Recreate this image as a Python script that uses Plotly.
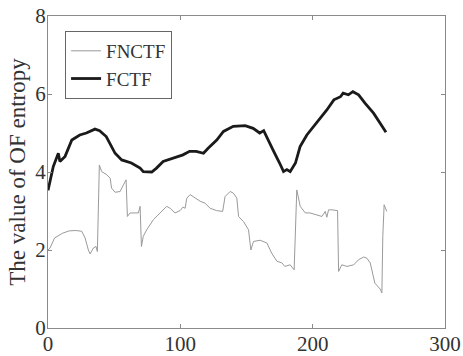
import plotly.graph_objects as go

# FNCTF (thin grey line)
fnctf_x = [0, 1.5, 5, 11, 16, 21, 25.5, 28, 30.5, 31.8, 34.3, 36.3, 37.3, 38.8, 40.6, 44.4, 47, 48, 50.7, 54.5, 57, 59,
           60, 62, 65.8, 68.3, 69.6, 70.6, 72, 74.6, 79.7, 84.7, 89.7, 92.3, 96, 99.8, 102, 103.6, 104.9, 107.4,
           111, 115, 118.7, 122.5, 127.5, 132, 133.8, 137.6, 140, 142.7, 144, 147.7, 151.5, 153.3, 155.3, 160.3,
           165.4, 169, 173, 176.7, 179, 183, 186, 188, 190.6, 194.4, 198, 203, 207, 209.5, 210.7, 212, 214.5, 218.8,
           219.6, 222, 225.9, 231, 234.7, 238.5, 241, 243.5, 245.5, 247, 251, 252.3, 253, 254, 256]
fnctf_y = [2.0, 2.05, 2.31, 2.43, 2.49, 2.50, 2.48, 2.31, 2.0, 1.90, 2.05, 2.09, 1.96, 4.18, 4.01, 3.93, 3.84, 3.59,
           3.48, 3.50, 3.67, 3.80, 2.86, 2.95, 2.95, 2.95, 3.12, 2.09, 2.35, 2.52, 2.78, 2.95, 3.12, 3.07, 2.95,
           3.01, 3.10, 3.07, 3.33, 3.42, 3.33, 3.25, 3.20, 3.07, 3.01, 2.99, 3.37, 3.50, 3.46, 3.33, 2.86, 2.73,
           2.52, 2.0, 2.22, 2.25, 2.18, 1.92, 1.71, 1.67, 1.58, 1.62, 1.49, 3.54, 3.12, 2.95, 2.95, 2.90, 2.86,
           2.99, 2.84, 3.03, 3.03, 3.01, 1.45, 1.62, 1.58, 1.62, 1.75, 1.82, 1.79, 1.67, 1.41, 1.15, 1.00, 0.90,
           2.35, 3.16, 2.99]

# FCTF (thick black line)
fctf_x = [0, 4, 7.8, 9, 12.9, 18, 24, 29, 35.5, 39, 44, 50.7, 55.7, 63, 69.6, 72, 78.4, 82, 87, 94.8, 102, 107,
          112, 117.5, 121, 127.5, 132.6, 140, 149, 155, 160, 163, 165, 170, 175, 178, 180.5, 183, 187, 190.5,
          195.6, 203, 210.7, 216, 221, 223, 227, 230.4, 234.7, 239.7, 246, 251, 255.4]
fctf_y = [3.53, 4.14, 4.48, 4.27, 4.40, 4.82, 4.95, 5.00, 5.10, 5.06, 4.91, 4.48, 4.31, 4.23, 4.10, 4.01, 4.00,
          4.10, 4.27, 4.36, 4.44, 4.53, 4.53, 4.48, 4.61, 4.82, 5.04, 5.17, 5.19, 5.12, 5.00, 5.06, 4.91, 4.57,
          4.23, 4.01, 4.06, 4.01, 4.23, 4.65, 4.95, 5.25, 5.59, 5.85, 5.93, 6.02, 5.98, 6.06, 5.98, 5.76, 5.51,
          5.25, 5.02]

x_ticks = [0, 100, 200, 300]
y_ticks = [0, 2, 4, 6, 8]

serif = "Liberation Serif"

fig = go.Figure()
fig.add_trace(go.Scatter(x=fnctf_x, y=fnctf_y, mode="lines", name="FNCTF",
                         line=dict(color="#9a9a9a", width=1)))
fig.add_trace(go.Scatter(x=fctf_x, y=fctf_y, mode="lines", name="FCTF",
                         line=dict(color="#1a1a1a", width=2.8)))

axis_common = dict(showgrid=False, zeroline=False, showline=True, linecolor="#8a8a8a", linewidth=1,
                   mirror="ticks", ticks="inside", ticklen=4, tickcolor="#8a8a8a", automargin=False,
                   ticklabeloverflow="allow",
                   tickfont=dict(family=serif, size=21, color="#333333"))

fig.update_xaxes(range=[0, 300], tickvals=x_ticks, ticklabelstandoff=-3, **axis_common)
fig.update_yaxes(range=[0, 8], tickvals=y_ticks, ticklabelstandoff=-3,
                 title=dict(text="The value of OF entropy", font=dict(family=serif, size=23, color="#333333"),
                            standoff=3),
                 **axis_common)

fig.update_layout(
    width=463, height=356,
    margin=dict(l=48, r=18, t=16, b=28),
    paper_bgcolor="white", plot_bgcolor="white",
    showlegend=True,
    legend=dict(x=0.043, y=0.952, xanchor="left", yanchor="top",
                bordercolor="#666666", borderwidth=1, bgcolor="white",
                font=dict(family=serif, size=19, color="#333333"),
                tracegroupgap=0, itemwidth=30),
)

# remove the default 8px page margin so the figure fills the window
fig.write_html("out.html", config={"displayModeBar": False},
               post_script="document.body.style.margin='0';")
